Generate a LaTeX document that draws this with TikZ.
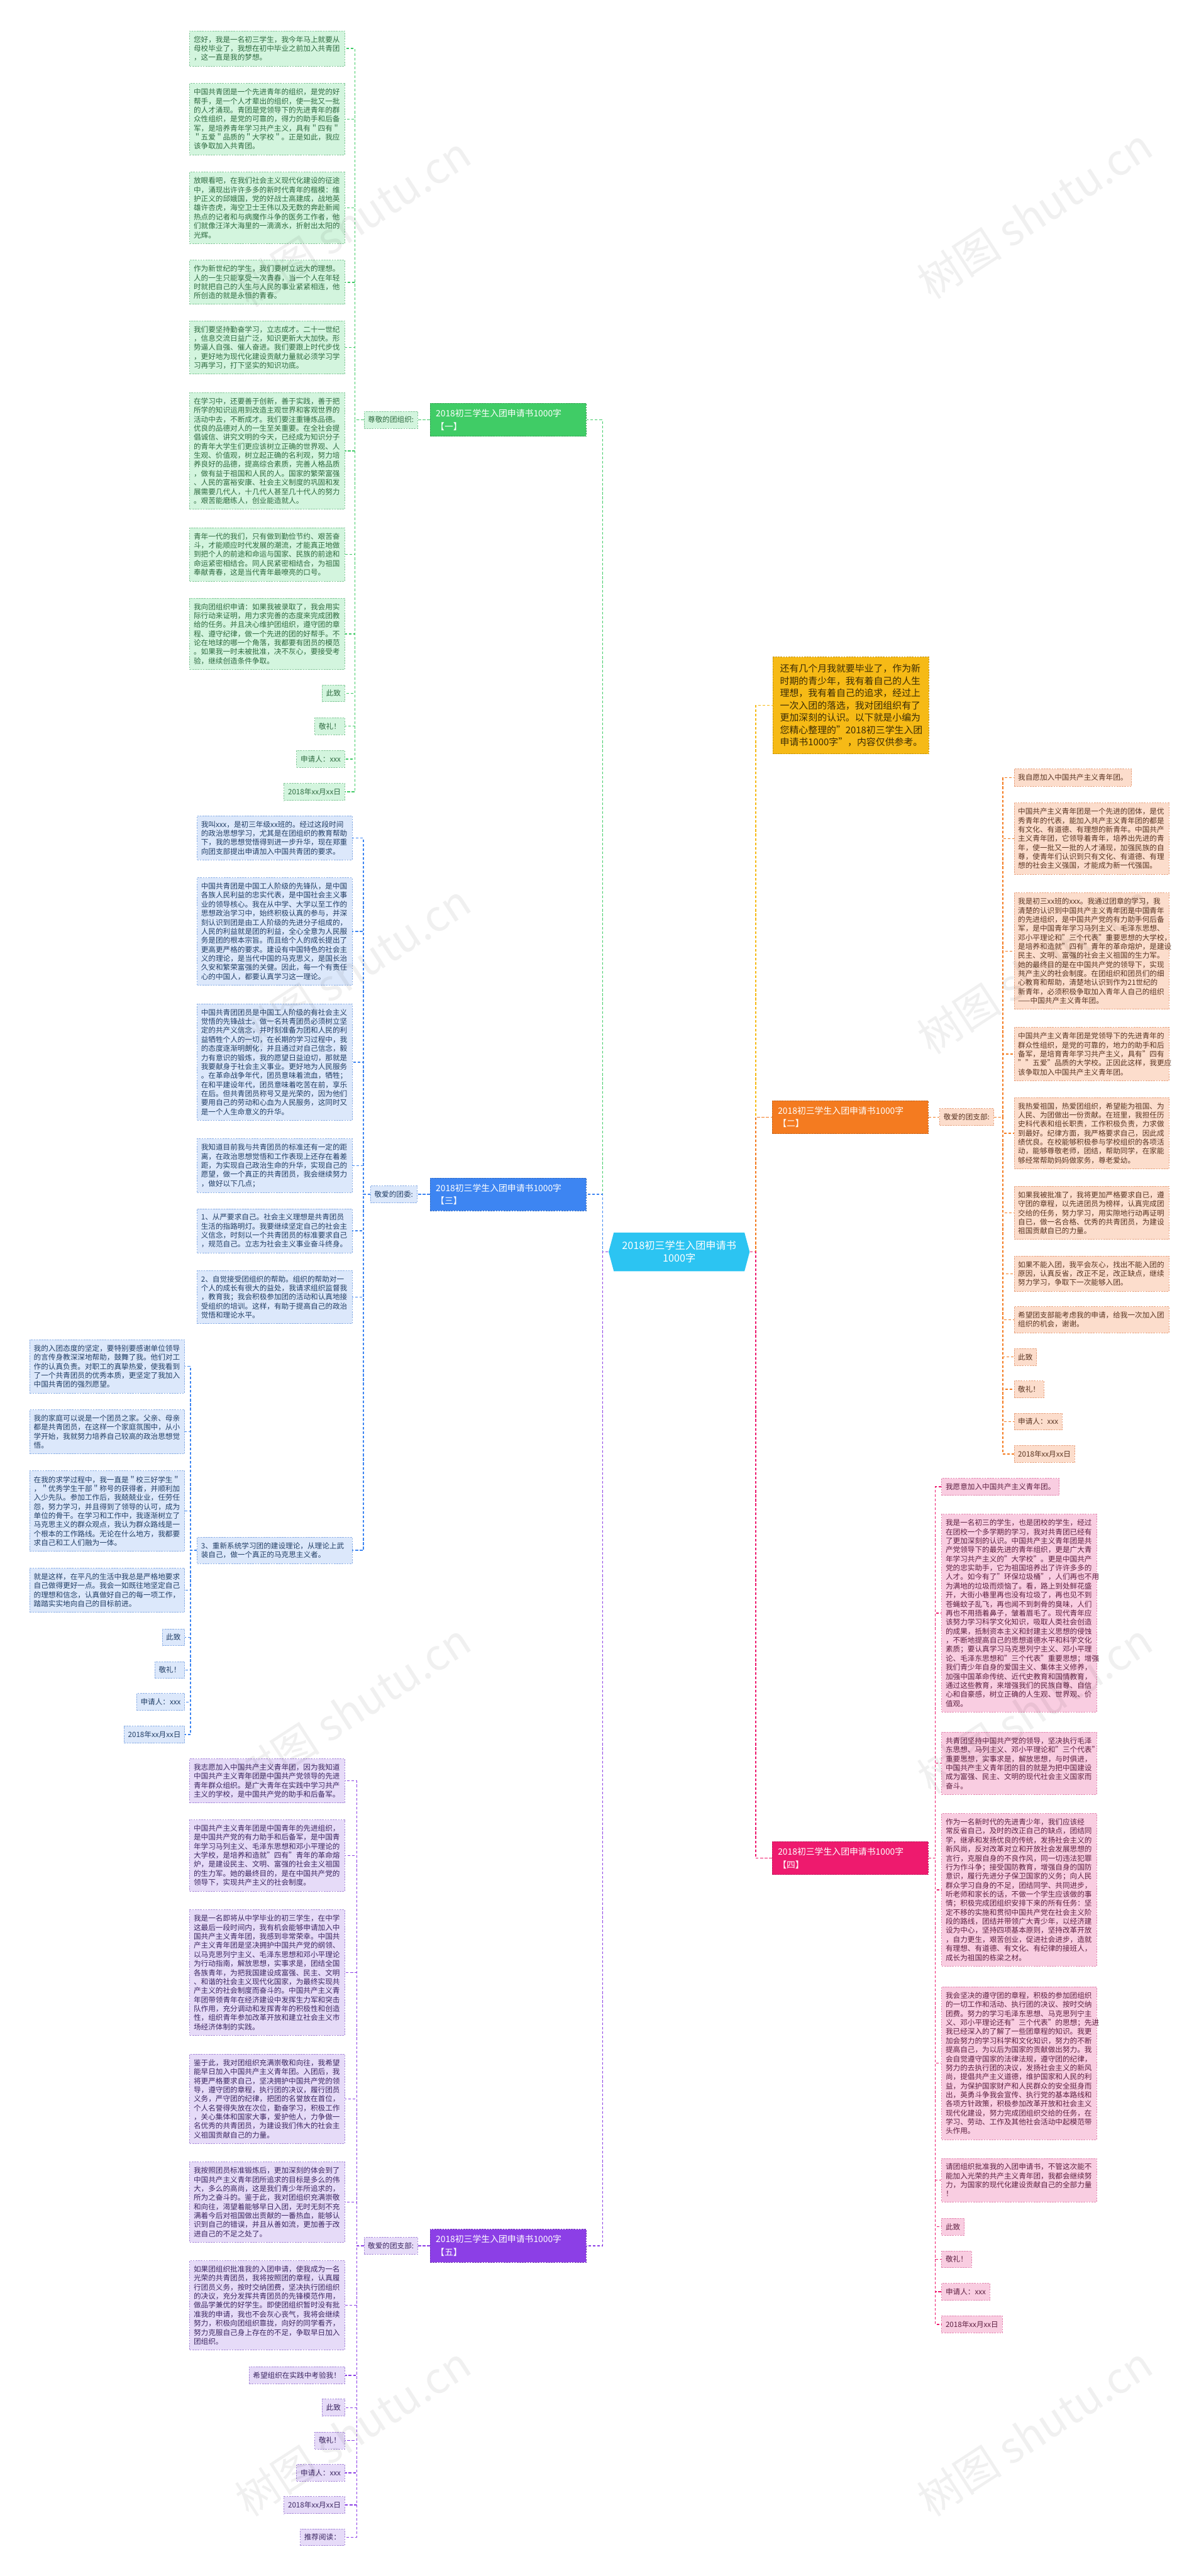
\documentclass[tikz,border=0pt]{standalone}
\usepackage{fontspec}
\setmainfont{Noto Sans CJK SC}
\usetikzlibrary{shapes.symbols}
\definecolor{gN}{HTML}{40CC66}\definecolor{gF}{HTML}{D3F5DE}\definecolor{gB}{HTML}{86C99B}\definecolor{gT}{HTML}{2F6B41}
\definecolor{bN}{HTML}{3D85F2}\definecolor{bF}{HTML}{DCE8FB}\definecolor{bB}{HTML}{8DB0E6}\definecolor{bT}{HTML}{223E66}
\definecolor{pN}{HTML}{8C3FE6}\definecolor{pF}{HTML}{E6DBF8}\definecolor{pB}{HTML}{A98BDA}\definecolor{pT}{HTML}{3C2762}
\definecolor{oN}{HTML}{F47B20}\definecolor{oF}{HTML}{FCDDCC}\definecolor{oB}{HTML}{E9A481}\definecolor{oT}{HTML}{5A3522}
\definecolor{kN}{HTML}{EE1A6E}\definecolor{kF}{HTML}{F9CDE1}\definecolor{kB}{HTML}{E48AB3}\definecolor{kT}{HTML}{5E2142}
\definecolor{yN}{HTML}{F6BA16}\definecolor{yB}{HTML}{C99400}\definecolor{yT}{HTML}{3B2C05}
\definecolor{cN}{HTML}{2CC4F2}
\begin{document}
\begin{tikzpicture}[x=1pt,y=-1pt,
  leafbase/.style={draw=#1, dash pattern=on 1pt off 0.6pt, line width=0.3pt, inner xsep=2.4pt, inner ysep=3.1pt, font=\fontsize{4.45}{5.5}\selectfont, align=left},
  gleaf/.style={leafbase=gB, fill=gF, text=gT},
  bleaf/.style={leafbase=bB, fill=bF, text=bT},
  pleaf/.style={leafbase=pB, fill=pF, text=pT},
  oleaf/.style={leafbase=oB, fill=oF, text=oT},
  kleaf/.style={leafbase=kB, fill=kF, text=kT},
  wide/.style={text width=89.5pt},
  branch/.style={fill=#1, draw=#1!80!black, dash pattern=on 1pt off 0.6pt, line width=0.3pt, text=white, font=\fontsize{5.3}{7.9}\selectfont, align=left, text width=88pt, inner xsep=3.5pt, inner ysep=3.6pt},
  con/.style={draw=#1, line width=0.55pt, dash pattern=on 1.6pt off 1.1pt},
  wm/.style={text=black, opacity=0.06, font=\fontsize{26}{26}\selectfont, rotate=33}
]
\useasboundingbox (0,0) rectangle (730,1568);

% ---------- centre ----------
\node[signal, signal to=west and east, signal pointer angle=150, fill=cN, text=white, font=\fontsize{6.2}{7.8}\selectfont, align=center, inner xsep=5pt, inner ysep=5pt] (c) at (413.5,762) {2018初三学生入团申请书\\1000字};

% ---------- branch nodes ----------
\node[branch=gN, anchor=east] (n1) at (357,255.5) {2018初三学生入团申请书1000字\\【一】};
\node[branch=bN, anchor=east] (n3) at (357,727) {2018初三学生入团申请书1000字\\【三】};
\node[branch=pN, anchor=east] (n5) at (357,1367) {2018初三学生入团申请书1000字\\【五】};
\node[branch=oN, anchor=west] (n2) at (470,680) {2018初三学生入团申请书1000字\\【二】};
\node[branch=kN, anchor=west] (n4) at (470,1131) {2018初三学生入团申请书1000字\\【四】};
\node[fill=yN, draw=yB, dash pattern=on 1pt off 0.6pt, line width=0.3pt, text=yT, font=\fontsize{5.7}{7.46}\selectfont, align=left, text width=86pt, inner xsep=4.5pt, inner ysep=4.4pt, anchor=west] (intro) at (470.3,429.4) {还有几个月我就要毕业了，作为新\\时期的青少年，我有着自己的人生\\理想，我有着自己的追求，经过上\\一次入团的落选，我对团组织有了\\更加深刻的认识。以下就是小编为\\您精心整理的"2018初三学生入团\\申请书1000字"，内容仅供参考。};

% ---------- labels ----------
\node[gleaf, anchor=east] (lg) at (254.5,255.5) {尊敬的团组织:};
\node[bleaf, anchor=east] (lb) at (254,727) {敬爱的团委:};
\node[pleaf, anchor=east] (lp) at (254.5,1367) {敬爱的团支部:};
\node[oleaf, anchor=west] (lo) at (572,680) {敬爱的团支部:};

% ---------- green leaves ----------
\node[gleaf, wide, anchor=east] (g1) at (210,29.5) {您好，我是一名初三学生，我今年马上就要从\\母校毕业了，我想在初中毕业之前加入共青团\\，这一直是我的梦想。};
\node[gleaf, wide, anchor=east] (g2) at (210,72.5) {中国共青团是一个先进青年的组织，是党的好\\帮手，是一个人才辈出的组织，使一批又一批\\的人才涌现。青团是党领导下的先进青年的群\\众性组织，是党的可靠的，得力的助手和后备\\军，是培养青年学习共产主义，具有＂四有＂\\＂五爱＂品质的＂大学校＂。正是如此，我应\\该争取加入共青团。};
\node[gleaf, wide, anchor=east] (g3) at (210,126.5) {放眼看吧，在我们社会主义现代化建设的征途\\中，涌现出许许多多的新时代青年的楷模：维\\护正义的邱娥国，党的好战士高建成，战地英\\雄许杏虎，海空卫士王伟以及无数的奔赴新闻\\热点的记者和与病魔作斗争的医务工作者，他\\们就像汪洋大海里的一滴滴水，折射出太阳的\\光辉。};
\node[gleaf, wide, anchor=east] (g4) at (210,171.8) {作为新世纪的学生，我们要树立远大的理想。\\人的一生只能享受一次青春，当一个人在年轻\\时就把自己的人生与人民的事业紧紧相连，他\\所创造的就是永恒的青春。};
\node[gleaf, wide, anchor=east] (g5) at (210,211.5) {我们要坚持勤奋学习，立志成才。二十一世纪\\，信息交流日益广泛，知识更新大大加快。形\\势逼人自强、催人奋进。我们要跟上时代步伐\\，更好地为现代化建设贡献力量就必须学习学\\习再学习，打下坚实的知识功底。};
\node[gleaf, wide, anchor=east] (g6) at (210,274.5) {在学习中，还要善于创新，善于实践，善于把\\所学的知识运用到改造主观世界和客观世界的\\活动中去，不断成才。我们要注重锤炼品德。\\优良的品德对人的一生至关重要。在全社会提\\倡诚信、讲究文明的今天，已经成为知识分子\\的青年大学生们更应该树立正确的世界观、人\\生观、价值观，树立起正确的名利观，努力培\\养良好的品德，提高综合素质，完善人格品质\\，做有益于祖国和人民的人。国家的繁荣富强\\、人民的富裕安康、社会主义制度的巩固和发\\展需要几代人，十几代人甚至几十代人的努力\\。艰苦能磨练人，创业能造就人。};
\node[gleaf, wide, anchor=east] (g7) at (210,337.5) {青年一代的我们，只有做到勤俭节约、艰苦奋\\斗，才能顺应时代发展的潮流，才能真正地做\\到把个人的前途和命运与国家、民族的前途和\\命运紧密相结合。同人民紧密相结合，为祖国\\奉献青春，这是当代青年最嘹亮的口号。};
\node[gleaf, wide, anchor=east] (g8) at (210,385.8) {我向团组织申请：如果我被录取了，我会用实\\际行动来证明，用力求完善的态度来完成团教\\给的任务。并且决心维护团组织，遵守团的章\\程、遵守纪律，做一个先进的团的好帮手。不\\论在地球的哪一个角落，我都要有团员的模范\\。如果我一时未被批准，决不灰心，要接受考\\验，继续创造条件争取。};
\node[gleaf, anchor=east] (g9) at (210,422) {此致};
\node[gleaf, anchor=east] (g10) at (210,442) {敬礼！};
\node[gleaf, anchor=east] (g11) at (210,462) {申请人：xxx};
\node[gleaf, anchor=east] (g12) at (210,482) {2018年xx月xx日};

% ---------- blue leaves ----------
\node[bleaf, wide, anchor=east] (b1) at (214.5,510) {我叫xxx，是初三年级xx班的。经过这段时间\\的政治思想学习，尤其是在团组织的教育帮助\\下，我的思想觉悟得到进一步升华，现在郑重\\向团支部提出申请加入中国共青团的要求。};
\node[bleaf, wide, anchor=east] (b2) at (214.5,567) {中国共青团是中国工人阶级的先锋队，是中国\\各族人民利益的忠实代表，是中国社会主义事\\业的领导核心。我在从中学、大学以至工作的\\思想政治学习中，始终积极认真的参与，并深\\刻认识到团是由工人阶级的先进分子组成的，\\人民的利益就是团的利益，全心全意为人民服\\务是团的根本宗旨。而且给个人的成长提出了\\更高更严格的要求。建设有中国特色的社会主\\义的理论，是当代中国的马克思义，是国长治\\久安和繁荣富强的关健。因此，每一个有责任\\心的中国人，都要认真学习这一理论。};
\node[bleaf, wide, anchor=east] (b3) at (214.5,646.5) {中国共青团团员是中国工人阶级的有社会主义\\觉悟的先锋战士。做一名共青团员必须树立坚\\定的共产义信念，并时刻准备为团和人民的利\\益牺牲个人的一切，在长期的学习过程中，我\\的态度逐渐明朗化，并且通过对自己信念，毅\\力有意识的锻炼，我的愿望日益迫切，那就是\\我要献身于社会主义事业。更好地为人民服务\\。在革命战争年代，团员意味着流血，牺牲；\\在和平建设年代，团员意味着吃苦在前，享乐\\在后。但共青团员称号又是光荣的，因为他们\\要用自己的劳动和心血为人民服务，这同时又\\是一个人生命意义的升华。};
\node[bleaf, wide, anchor=east] (b4) at (214.5,709.5) {我知道目前我与共青团员的标准还有一定的距\\离，在政治思想觉悟和工作表现上还存在着差\\距，为实现自己政治生命的升华，实现自己的\\愿望，做一个真正的共青团员，我会继续努力\\，做好以下几点；};
\node[bleaf, wide, anchor=east] (b5) at (214.5,749.2) {1、从严要求自己。社会主义理想是共青团员\\生活的指路明灯。我要继续坚定自己的社会主\\义信念，时刻以一个共青团员的标准要求自己\\，规范自己。立志为社会主义事业奋斗终身。};
\node[bleaf, wide, anchor=east] (b6) at (214.5,789.5) {2、自觉接受团组织的帮助。组织的帮助对一\\个人的成长有很大的益处，我请求组织监督我\\，教育我；我会积极参加团的活动和认真地接\\受组织的培训。这样，有助于提高自己的政治\\觉悟和理论水平。};
\node[bleaf, wide, anchor=east] (b7) at (214.5,943.7) {3、重新系统学习团的建设理论，从理论上武\\装自己，做一个真正的马克思主义者。};

% ---------- blue sub leaves ----------
\node[bleaf, wide, anchor=east] (l1) at (112.6,831.7) {我的入团态度的坚定，要特别要感谢单位领导\\的言传身教深深地帮助，鼓舞了我。他们对工\\作的认真负责。对职工的真挚热爱，使我看到\\了一个共青团员的优秀本质，更坚定了我加入\\中国共青团的强烈愿望。};
\node[bleaf, wide, anchor=east] (l2) at (112.6,871.5) {我的家庭可以说是一个团员之家。父亲、母亲\\都是共青团员，在这样一个家庭氛围中，从小\\学开始，我就努力培养自己较高的政治思想觉\\悟。};
\node[bleaf, wide, anchor=east] (l3) at (112.6,919.8) {在我的求学过程中，我一直是＂校三好学生＂\\，＂优秀学生干部＂称号的获得者，并顺利加\\入少先队。参加工作后，我兢兢业业，任劳任\\怨，努力学习，并且得到了领导的认可，成为\\单位的骨干。在学习和工作中，我逐渐树立了\\马克思主义的群众观点，我认为群众路线是一\\个根本的工作路线。无论在什么地方，我都要\\求自己和工人们融为一体。};
\node[bleaf, wide, anchor=east] (l4) at (112.6,968) {就是这样，在平凡的生活中我总是严格地要求\\自己做得更好一点。我会一如既往地坚定自己\\的理想和信念，认真做好自己的每一项工作，\\踏踏实实地向自己的目标前进。};
\node[bleaf, anchor=east] (l5) at (112.6,996.6) {此致};
\node[bleaf, anchor=east] (l6) at (112.6,1016.5) {敬礼！};
\node[bleaf, anchor=east] (l7) at (112.6,1036) {申请人：xxx};
\node[bleaf, anchor=east] (l8) at (112.6,1055.8) {2018年xx月xx日};

% ---------- purple leaves ----------
\node[pleaf, wide, anchor=east] (p1) at (210,1084) {我志愿加入中国共产主义青年团，因为我知道\\中国共产主义青年团是中国共产党领导的先进\\青年群众组织。是广大青年在实践中学习共产\\主义的学校，是中国共产党的助手和后备军。};
\node[pleaf, wide, anchor=east] (p2) at (210,1129.4) {中国共产主义青年团是中国青年的先进组织，\\是中国共产党的有力助手和后备军，是中国青\\年学习马列主义、毛泽东思想和邓小平理论的\\大学校，是培养和造就"四有"青年的革命熔\\炉，是建设民主、文明、富强的社会主义祖国\\的生力军。她的最终目的，是在中国共产党的\\领导下，实现共产主义的社会制度。};
\node[pleaf, wide, anchor=east] (p3) at (210,1200.7) {我是一名即将从中学毕业的初三学生，在中学\\这最后一段时间内，我有机会能够申请加入中\\国共产主义青年团，我感到非常荣幸。中国共\\产主义青年团是坚决拥护中国共产党的纲领、\\以马克思列宁主义、毛泽东思想和邓小平理论\\为行动指南，解放思想，实事求是，团结全国\\各族青年，为把我国建设成富强、民主、文明\\、和谐的社会主义现代化国家，为最终实现共\\产主义的社会制度而奋斗的。中国共产主义青\\年团带领青年在经济建设中发挥生力军和突击\\队作用，充分调动和发挥青年的积极性和创造\\性，组织青年参加改革开放和建立社会主义市\\场经济体制的实践。};
\node[pleaf, wide, anchor=east] (p4) at (210,1277.6) {鉴于此，我对团组织充满崇敬和向往，我希望\\能早日加入中国共产主义青年团。入团后，我\\将更严格要求自己，坚决拥护中国共产党的领\\导，遵守团的章程，执行团的决议，履行团员\\义务，严守团的纪律，把团的名誉放在首位，\\个人名誉得失放在次位，勤奋学习，积极工作\\，关心集体和国家大事，爱护他人，力争做一\\名优秀的共青团员，为建设我们伟大的社会主\\义祖国贡献自己的力量。};
\node[pleaf, wide, anchor=east] (p5) at (210,1340.4) {我按照团员标准锻炼后，更加深刻的体会到了\\中国共产主义青年团所追求的目标是多么的伟\\大，多么的高尚，这是我们青少年所追求的，\\所为之奋斗的。鉴于此，我对团组织充满崇敬\\和向往，渴望着能够早日入团，无时无刻不充\\满着今后对祖国做出贡献的一番热血，能够认\\识到自己的错误，并且从善如流，更加善于改\\进自己的不足之处了。};
\node[pleaf, wide, anchor=east] (p6) at (210,1403.2) {如果团组织批准我的入团申请，使我成为一名\\光荣的共青团员，我将按照团的章程，认真履\\行团员义务，按时交纳团费，坚决执行团组织\\的决议，充分发挥共青团员的先锋模范作用，\\做品学兼优的好学生。即使团组织暂时没有批\\准我的申请，我也不会灰心丧气，我将会继续\\努力，积极向团组织靠拢，向好的同学看齐，\\努力克服自己身上存在的不足，争取早日加入\\团组织。};
\node[pleaf, anchor=east] (p7) at (210,1445.8) {希望组织在实践中考验我！};
\node[pleaf, anchor=east] (p8) at (210,1465.5) {此致};
\node[pleaf, anchor=east] (p9) at (210,1485.5) {敬礼！};
\node[pleaf, anchor=east] (p10) at (210,1505.2) {申请人：xxx};
\node[pleaf, anchor=east] (p11) at (210,1524.8) {2018年xx月xx日};
\node[pleaf, anchor=east] (p12) at (210,1544.4) {推荐阅读：};

% ---------- orange leaves ----------
\node[oleaf, anchor=west] (o1) at (617.3,473.3) {我自愿加入中国共产主义青年团。};
\node[oleaf, wide, anchor=west] (o2) at (617.3,510.5) {中国共产主义青年团是一个先进的团体，是优\\秀青年的代表，能加入共产主义青年团的都是\\有文化、有道德、有理想的新青年。中国共产\\主义青年团，它领导着青年，培养出先进的青\\年，使一批又一批的人才涌现，加强民族的自\\尊，使青年们认识到只有文化、有道德、有理\\想的社会主义强国，才能成为新一代强国。};
\node[oleaf, wide, anchor=west] (o3) at (617.3,578.9) {我是初三xx班的xxx。我通过团章的学习，我\\清楚的认识到中国共产主义青年团是中国青年\\的先进组织，是中国共产党的有力助手何后备\\军，是中国青年学习马列主义、毛泽东思想、\\邓小平理论和"三个代表"重要思想的大学校，\\是培养和造就"四有"青年的革命熔炉，是建设\\民主、文明、富强的社会主义祖国的生力军。\\她的最终目的是在中国共产党的领导下，实现\\共产主义的社会制度。在团组织和团员们的细\\心教育和帮助，清楚地认识到作为21世纪的\\新青年，必须积极争取加入青年人自己的组织\\——中国共产主义青年团。};
\node[oleaf, wide, anchor=west] (o4) at (617.3,641.6) {中国共产主义青年团是党领导下的先进青年的\\群众性组织，是党的可靠的，地力的助手和后\\备军，是培育青年学习共产主义，具有"四有\\""五爱"品质的大学校。正因此这样，我更应\\该争取加入中国共产主义青年团。};
\node[oleaf, wide, anchor=west] (o5) at (617.3,689.8) {我热爱祖国，热爱团组织，希望能为祖国、为\\人民、为团做出一份贡献。在班里，我担任历\\史科代表和组长职责，工作积极负责，力求做\\到最好。纪律方面，我严格要求自己，因此成\\绩优良。在校能够积极参与学校组织的各项活\\动，能够尊敬老师，团结，帮助同学，在家能\\够经常帮助妈妈做家务，尊老爱幼。};
\node[oleaf, wide, anchor=west] (o6) at (617.3,738.3) {如果我被批准了，我将更加严格要求自已，遵\\守团的章程，以先进团员为榜样，认真完成团\\交给的任务，努力学习，用实隙地行动再证明\\自已，做一名合格、优秀的共青团员，为建设\\祖国贡献自已的力量。};
\node[oleaf, wide, anchor=west] (o7) at (617.3,775.3) {如果不能入团，我平会灰心，找出不能入团的\\原因，认真反省，改正不足，改正缺点，继续\\努力学习，争取下一次能够入团。};
\node[oleaf, wide, anchor=west] (o8) at (617.3,803.3) {希望团支部能考虑我的申请，给我一次加入团\\组织的机会，谢谢。};
\node[oleaf, anchor=west] (o9) at (617.3,826) {此致};
\node[oleaf, anchor=west] (o10) at (617.3,845.7) {敬礼！};
\node[oleaf, anchor=west] (o11) at (617.3,865.3) {申请人：xxx};
\node[oleaf, anchor=west] (o12) at (617.3,885) {2018年xx月xx日};

% ---------- pink leaves ----------
\node[kleaf, anchor=west] (k1) at (573.2,905) {我愿意加入中国共产主义青年团。};
\node[kleaf, wide, anchor=west] (k2) at (573.2,981.9) {我是一名初三的学生，也是团校的学生，经过\\在团校一个多学期的学习，我对共青团已经有\\了更加深刻的认识。中国共产主义青年团是共\\产党领导下的最先进的青年组织，更是广大青\\年学习共产主义的"大学校"。更是中国共产\\党的忠实助手，它为祖国培养出了许许多多的\\人才。如今有了"环保垃圾桶"，人们再也不用\\为满地的垃圾而烦恼了。看，路上到处鲜花盛\\开，大街小巷里再也没有垃圾了，再也见不到\\苍蝇蚊子乱飞，再也闻不到刺骨的臭味，人们\\再也不用捂着鼻子，皱着眉毛了。现代青年应\\该努力学习科学文化知识，吸取人类社会创造\\的成果，抵制资本主义和封建主义思想的侵蚀\\，不断地提高自己的思想道德水平和科学文化\\素质；要认真学习马克思列宁主义、邓小平理\\论、毛泽东思想和"三个代表"重要思想；增强\\我们青少年自身的爱国主义、集体主义修养，\\加强中国革命传统、近代史教育和国情教育，\\通过这些教育，来增强我们的民族自尊、自信\\心和自豪感，树立正确的人生观、世界观、价\\值观。};
\node[kleaf, wide, anchor=west] (k3) at (573.2,1073.3) {共青团坚持中国共产党的领导，坚决执行毛泽\\东思想、马列主义、邓小平理论和"三个代表"\\重要思想，实事求是，解放思想，与时俱进，\\中国共产主义青年团的目的就是为把中国建设\\成为富强、民主、文明的现代社会主义国家而\\奋斗。};
\node[kleaf, wide, anchor=west] (k4) at (573.2,1150.3) {作为一名新时代的先进青少年，我们应该经\\常反省自己，及时的改正自己的缺点，团结同\\学，继承和发扬优良的传统，发扬社会主义的\\新风尚，反对改革对立和开放社会发展思想的\\言行，克服自身的不良作风，同一切违法犯罪\\行为作斗争；接受国防教育，增强自身的国防\\意识，履行先进分子保卫国家的义务；向人民\\群众学习自身的不足，团结同学、共同进步，\\听老师和家长的话，不做一个学生应该做的事\\情；积极完成团组织安排下来的所有任务：坚\\定不移的实施和贯彻中国共产党在社会主义阶\\段的路线，团结并带领广大青少年，以经济建\\设为中心，坚持四项基本原则，坚持改革开放\\，自力更生，艰苦创业，促进社会进步，造就\\有理想、有道德、有文化、有纪律的接班人，\\成长为祖国的栋梁之材。};
\node[kleaf, wide, anchor=west] (k5) at (573.2,1255.9) {我会坚决的遵守团的章程，积极的参加团组织\\的一切工作和活动、执行团的决议、按时交纳\\团费。努力的学习毛泽东思想、马克思列宁主\\义、邓小平理论还有"三个代表"的思想；先进\\我已经深入的了解了一些团章程的知识。我更\\加会努力的学习科学和文化知识，努力的不断\\提高自己，为以后为国家的贡献做出努力。我\\会自觉遵守国家的法律法规，遵守团的纪律，\\努力的去执行团的决议，发扬社会主义的新风\\尚，提倡共产主义道德，维护国家和人民的利\\益，为保护国家财产和人民群众的安全挺身而\\出，英勇斗争我会宣传、执行党的基本路线和\\各项方针政策，积极参加改革开放和社会主义\\现代化建设，努力完成团组织交给的任务，在\\学习、劳动、工作及其他社会活动中起模范带\\头作用。};
\node[kleaf, wide, anchor=west] (k6) at (573.2,1327) {请团组织批准我的入团申请书，不管这次能不\\能加入光荣的共产主义青年团，我都会继续努\\力，为国家的现代化建设贡献自己的全部力量\\！};
\node[kleaf, anchor=west] (k7) at (573.2,1355.4) {此致};
\node[kleaf, anchor=west] (k8) at (573.2,1375.2) {敬礼！};
\node[kleaf, anchor=west] (k9) at (573.2,1395) {申请人：xxx};
\node[kleaf, anchor=west] (k10) at (573.2,1414.8) {2018年xx月xx日};

% ---------- connectors: centre to branches ----------
\draw[con=gN] (c.west) -- ++(-3.5,0) |- (n1.east);
\draw[con=bN] (c.west) -- ++(-3.5,0) |- (n3.east);
\draw[con=pN] (c.west) -- ++(-3.5,0) |- (n5.east);
\draw[con=yN] (c.east) -- ++(3.5,0) |- (intro.west);
\draw[con=oN] (c.east) -- ++(3.5,0) |- (n2.west);
\draw[con=kN] (c.east) -- ++(3.5,0) |- (n4.west);

% branch to labels
\draw[con=gN] (n1.west) -- (lg.east);
\draw[con=bN] (n3.west) -- (lb.east);
\draw[con=pN] (n5.west) -- (lp.east);
\draw[con=oN] (n2.east) -- (lo.west);

% labels to leaves
\foreach \i in {1,...,12} \draw[con=gN] (lg.west) -- ++(-5.3,0) |- (g\i.east);
\foreach \i in {1,...,7} \draw[con=bN] (lb.west) -- ++(-4.2,0) |- (b\i.east);
\foreach \i in {1,...,8} \draw[con=bN] (b7.west) -- ++(-3.9,0) |- (l\i.east);
\foreach \i in {1,...,12} \draw[con=pN] (lp.west) -- ++(-4.3,0) |- (p\i.east);
\foreach \i in {1,...,12} \draw[con=oN] (lo.east) -- ++(5.5,0) |- (o\i.west);
\foreach \i in {1,...,10} \draw[con=kN] (n4.east) -- ++(4.2,0) |- (k\i.west);

% ---------- watermark ----------
\foreach \p/\q in {215/135, 630/130, 215/590, 630/590, 215/1040, 630/1040, 215/1480, 630/1480}
  \node[wm] at (\p,\q) {树图 shutu.cn};
\end{tikzpicture}
\end{document}
